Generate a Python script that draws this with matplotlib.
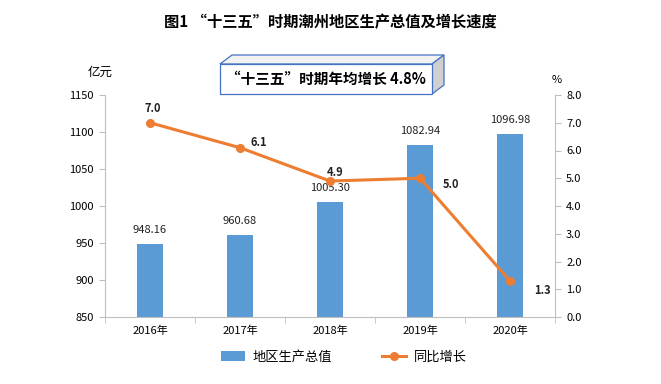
import matplotlib.pyplot as plt
from matplotlib.patches import Polygon, Rectangle
from matplotlib.lines import Line2D

plt.rcParams['font.family'] = ['Noto Sans CJK SC', 'DejaVu Sans']

years = ['2016年', '2017年', '2018年', '2019年', '2020年']
gdp = [948.16, 960.68, 1005.30, 1082.94, 1096.98]
growth = [7.0, 6.1, 4.9, 5.0, 1.3]
gdp_labels = ['948.16', '960.68', '1005.30', '1082.94', '1096.98']
growth_labels = ['7.0', '6.1', '4.9', '5.0', '1.3']

BAR_COLOR = '#5B9BD5'
LINE_COLOR = '#ED7D31'
AXIS_GREY = '#BFBFBF'

fig = plt.figure(figsize=(6.61, 3.84), dpi=100)
ax = fig.add_axes([105 / 661, 1 - 317 / 384, 450 / 661, 222 / 384])
ax2 = ax.twinx()

x = list(range(len(years)))
ax.bar(x, gdp, width=0.29, color=BAR_COLOR, zorder=2)
ax.set_xlim(-0.5, len(years) - 0.5)
ax.set_ylim(850, 1150)
ax.set_yticks(range(850, 1151, 50))
ax.set_xticks(x)
ax.set_xticklabels(years, fontsize=8)
ax.set_xticks([i + 0.5 for i in range(-1, len(years))], minor=True)
ax.tick_params(axis='x', which='major', length=0, pad=6)
ax.tick_params(axis='x', which='minor', length=4, color=AXIS_GREY)
ax.tick_params(axis='y', labelsize=8, length=4, color=AXIS_GREY, pad=4)

for i, (v, lab) in enumerate(zip(gdp, gdp_labels)):
    ax.annotate(lab, (i, v), xytext=(0, 9), textcoords='offset pixels',
                ha='center', va='bottom', fontsize=8, color='#222222')

ax2.plot(x, growth, color=LINE_COLOR, lw=2.2, marker='o', ms=5.5, zorder=3)
ax2.set_ylim(0, 8)
ax2.set_yticks(range(0, 9))
ax2.set_yticklabels([f'{v:.1f}' for v in range(0, 9)])
ax2.tick_params(axis='y', labelsize=8, length=4, color=AXIS_GREY, pad=4)

growth_offsets = [(3, 14), (19, 5), (5, 9), (31, -6), (32, -10)]
for i, (v, lab) in enumerate(zip(growth, growth_labels)):
    ax2.annotate(lab, (i, v), xytext=growth_offsets[i], textcoords='offset pixels',
                 ha='center', va='center', fontsize=8, fontweight='bold', color='#222222')

for a in (ax, ax2):
    a.spines['top'].set_visible(False)
    for s in ('left', 'right', 'bottom'):
        a.spines[s].set_color(AXIS_GREY)
        a.spines[s].set_linewidth(0.8)
ax.spines['right'].set_visible(False)
ax2.spines['left'].set_visible(False)
ax2.spines['bottom'].set_visible(False)

fig.text(100 / 661, 1 - 72 / 384, '亿元', fontsize=9, ha='center', va='center')
fig.text(557 / 661, 1 - 80 / 384, '%', fontsize=8, ha='center', va='center')

fig.text(0.5, 1 - 22 / 384, '图1 “十三五”时期潮州地区生产总值及增长速度',
         fontsize=11, fontweight='bold', ha='center', va='center')

# 3D box with the average growth note
def px(xp, yp):
    return (xp / 661, 1 - yp / 384)

edge = '#4472C4'
top_face = Polygon([px(220, 64), px(232, 55), px(444, 55), px(432, 64)], closed=True,
                   transform=fig.transFigure, facecolor='#F2F2F2', edgecolor=edge, lw=0.9)
side_face = Polygon([px(432, 64), px(444, 55), px(444, 85), px(432, 94)], closed=True,
                    transform=fig.transFigure, facecolor='#D0D0D0', edgecolor=edge, lw=0.9)
front_face = Polygon([px(220, 64), px(432, 64), px(432, 94), px(220, 94)], closed=True,
                     transform=fig.transFigure, facecolor='white', edgecolor=edge, lw=0.9)
for p in (top_face, side_face, front_face):
    fig.patches.append(p)
fig.text(326 / 661, 1 - 79 / 384, '“十三五”时期年均增长 4.8%', fontsize=10.5,
         fontweight='bold', ha='center', va='center')

handles = [Rectangle((0, 0), 1, 1, facecolor=BAR_COLOR),
           Line2D([0], [0], color=LINE_COLOR, lw=2.2, marker='o', ms=5.5)]
fig.legend(handles, ['地区生产总值', '同比增长'], loc='center', bbox_to_anchor=(344 / 661, 1 - 357 / 384),
           ncol=2, frameon=False, fontsize=9.5, columnspacing=3.8, handlelength=1.8,
           handletextpad=0.6)

fig.savefig('out.png', dpi=100)
